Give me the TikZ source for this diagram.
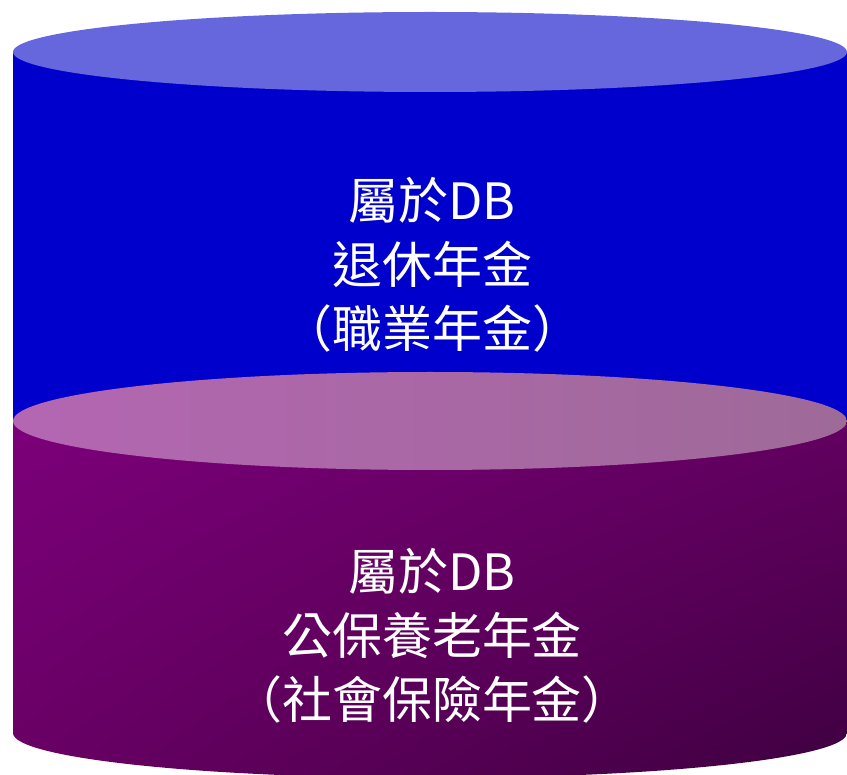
\documentclass[tikz,border=0pt]{standalone}
\usepackage{fontspec}
\newfontfamily\cjk{Noto Sans CJK TC}
\usetikzlibrary{positioning}
\usetikzlibrary{shadings}
\definecolor{lidblue}{RGB}{102,102,221}
\definecolor{bodyblue}{RGB}{0,0,204}
\definecolor{lidpinkA}{RGB}{180,102,178}
\definecolor{lidpinkB}{RGB}{158,106,152}
\definecolor{plumA}{RGB}{124,0,122}
\definecolor{plumB}{RGB}{98,0,96}
\definecolor{plumC}{RGB}{104,0,100}
\definecolor{plumD}{RGB}{62,0,64}
\tikzset{
 lidtop/.style = {%
    fill=lidblue,
    draw=none},
 lidlow/.style = {%
    upper left=lidpinkA, upper right=lidpinkB,
    lower left=lidpinkA, lower right=lidpinkB},
 bodylow/.style = {%
    upper left=plumA, upper right=plumB,
    lower left=plumC, lower right=plumD},
 caption/.style = {%
    text=white,
    align=center,
    font=\cjk\fontsize{50}{64}\selectfont},% <-- line pitch of the reference
    }

\begin{document}
\begin{tikzpicture}[x=1pt, y=-1pt]
    \useasboundingbox (0,0) rectangle (847,775);
    \clip (0,0) rectangle (847,775);
    % upper cylinder
    \fill[bodyblue] (13,52) rectangle (847,421);
    \fill[lidtop] (430,52) ellipse [x radius=417, y radius=40];
    % lower cylinder
    \shade[bodylow] (13,421) -- (13,733)
        arc[start angle=180, end angle=0, x radius=417, y radius=45]
        -- (847,421) -- cycle;
    \shade[lidlow] (430,421) ellipse [x radius=417, y radius=49];
    \node[caption] (occupational) at (432,265) {屬於DB\\退休年金\\（職業年金）};
    \node[caption] (socialins) at (432,636) {屬於DB\\公保養老年金\\（社會保險年金）};
\end{tikzpicture}
\end{document}
